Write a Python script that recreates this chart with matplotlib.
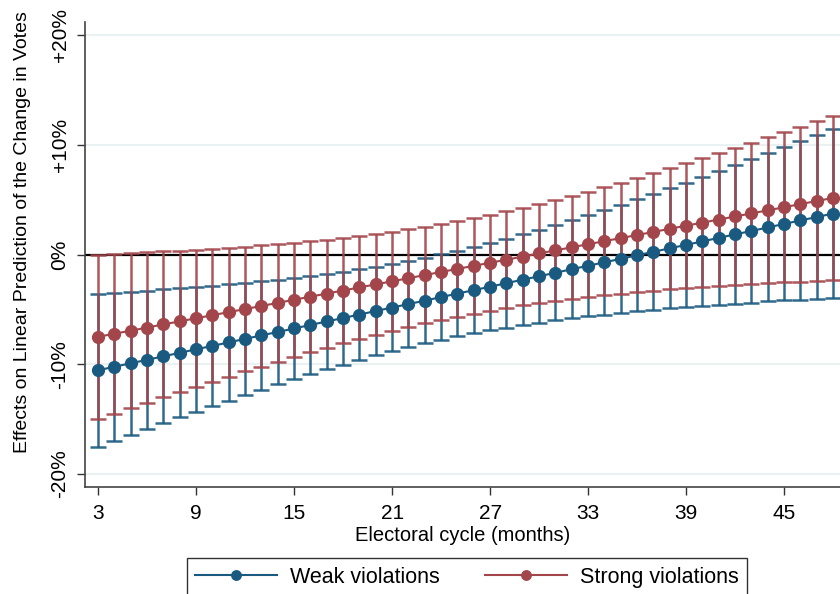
import matplotlib
matplotlib.use("Agg")
from matplotlib import pyplot as plt
import numpy as np

plt.rcParams['font.family'] = ['Liberation Sans', 'DejaVu Sans']

# 数据 (读图估计, 单位 %)
months = list(range(3, 49))

weak_mean = [-10.55, -10.23, -9.91, -9.60, -9.28, -8.96, -8.64, -8.33, -8.01, -7.69,
             -7.37, -7.06, -6.74, -6.42, -6.10, -5.79, -5.47, -5.15, -4.83, -4.52,
             -4.20, -3.88, -3.56, -3.25, -2.93, -2.61, -2.29, -1.98, -1.66, -1.34,
             -1.02, -0.71, -0.39, -0.07, 0.25, 0.57, 0.88, 1.20, 1.52, 1.84,
             2.15, 2.47, 2.79, 3.11, 3.42, 3.74]
weak_err = [6.98, 6.75, 6.53, 6.31, 6.10, 5.89, 5.68, 5.49, 5.30, 5.11,
            4.94, 4.77, 4.62, 4.48, 4.35, 4.24, 4.14, 4.05, 3.98, 3.94,
            3.91, 3.90, 3.91, 3.94, 3.98, 4.05, 4.14, 4.24, 4.35, 4.48,
            4.62, 4.77, 4.94, 5.11, 5.30, 5.49, 5.68, 5.89, 6.10, 6.31,
            6.53, 6.75, 6.98, 7.21, 7.44, 7.68]

strong_mean = [-7.50, -7.22, -6.94, -6.66, -6.37, -6.09, -5.81, -5.53, -5.25, -4.97,
               -4.69, -4.41, -4.12, -3.84, -3.56, -3.28, -3.00, -2.72, -2.44, -2.16,
               -1.87, -1.59, -1.31, -1.03, -0.75, -0.47, -0.19, 0.10, 0.38, 0.66,
               0.94, 1.22, 1.50, 1.78, 2.06, 2.35, 2.63, 2.91, 3.19, 3.47,
               3.75, 4.03, 4.31, 4.60, 4.88, 5.16]
strong_err = [7.50, 7.28, 7.06, 6.85, 6.65, 6.44, 6.24, 6.05, 5.87, 5.69,
              5.52, 5.35, 5.20, 5.06, 4.92, 4.80, 4.69, 4.60, 4.52, 4.45,
              4.40, 4.37, 4.35, 4.35, 4.37, 4.40, 4.45, 4.52, 4.60, 4.69,
              4.80, 4.92, 5.06, 5.20, 5.35, 5.52, 5.69, 5.87, 6.05, 6.24,
              6.44, 6.65, 6.85, 7.06, 7.28, 7.50]

xticks = [3, 9, 15, 21, 27, 33, 39, 45]
yticks = [-20, -10, 0, 10, 20]
ytick_labels = ['-20%', '-10%', '0%', '+10%', '+20%']

c_weak = '#1a5a80'
c_strong = '#a3464c'

fig = plt.figure(figsize=(8.4, 5.94), dpi=100)
ax = fig.add_axes([0.101, 0.18, 0.899, 0.783])

# 网格 + 零线
for y in [-20, -10, 10, 20]:
    ax.axhline(y, color='#eaf1f2', lw=1.5, zorder=0)
ax.axhline(0, color='black', lw=1.6, zorder=1)

# 置信区间
ax.errorbar(months, weak_mean, yerr=weak_err, fmt='none', ecolor=c_weak,
            elinewidth=1.8, capsize=6, capthick=1.8, alpha=0.9, zorder=2)
ax.errorbar(months, strong_mean, yerr=strong_err, fmt='none', ecolor=c_strong,
            elinewidth=1.8, capsize=6, capthick=1.8, alpha=0.9, zorder=3)

# 点估计
ax.plot(months, weak_mean, '-o', color=c_weak, lw=1.5, ms=8.5, zorder=4,
        label='Weak violations')
ax.plot(months, strong_mean, '-o', color=c_strong, lw=1.5, ms=8.5, zorder=5,
        label='Strong violations')

ax.set_xlim(2.19, 48.42)
ax.set_ylim(-21.2, 21.2)
ax.set_xticks(xticks)
ax.set_yticks(yticks)
ax.set_yticklabels(ytick_labels, rotation=90, va='center')
ax.tick_params(axis='both', labelsize=15, length=6, width=1, color='#333333')
ax.tick_params(axis='x', pad=6)
ax.tick_params(axis='y', pad=5)

for s in ['top', 'right']:
    ax.spines[s].set_visible(False)
for s in ['left', 'bottom']:
    ax.spines[s].set_color('#444444')
    ax.spines[s].set_linewidth(1.2)

ax.set_xlabel('Electoral cycle (months)', fontsize=14.5, labelpad=2)
ax.set_ylabel('Effects on Linear Prediction of the Change in Votes', fontsize=14)
ax.yaxis.set_label_coords(-0.0715, 0.548)

leg = ax.legend(loc='upper center', bbox_to_anchor=(0.506, -0.153), ncol=2,
                fontsize=15.5, frameon=True, fancybox=False, edgecolor='black',
                handlelength=3.8, handletextpad=0.6, columnspacing=2.1,
                borderpad=0.4, borderaxespad=0, markerscale=0.8)
leg.get_frame().set_linewidth(1.0)

plt.savefig('out.png', dpi=100)
